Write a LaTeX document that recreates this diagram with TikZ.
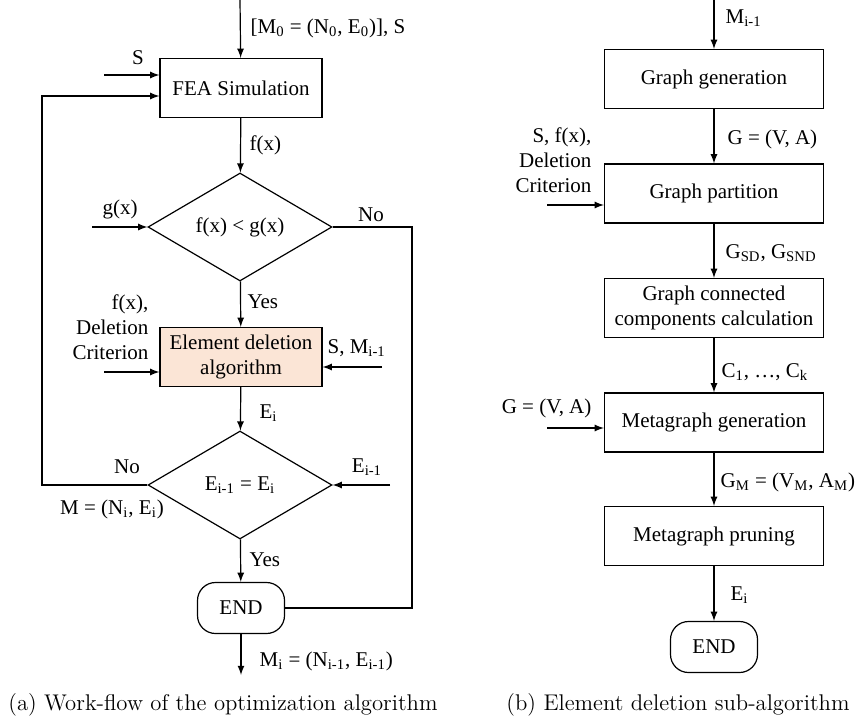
\documentclass[tikz,border=0pt]{standalone}
\usepackage{fontspec}
\newfontfamily\tnr{Liberation Serif}
\usetikzlibrary{arrows,shapes.geometric}
\definecolor{DelClr}{RGB}{251,229,214}
\newcommand{\sbs}[1]{\textsubscript{#1}}

\begin{document}
\begin{tikzpicture}[x=0.5pt,y=-0.5pt,line width=0.6pt,>=latex,
  every node/.style={font=\tnr\fontsize{10.5}{12.5}\selectfont},
  blk/.style={draw,rectangle,minimum width=81pt,minimum height=29.5pt,inner sep=2pt,align=center},
  wblk/.style={blk,minimum width=109.5pt},
  dec/.style={draw,diamond,aspect=1.7,minimum width=92pt,minimum height=54pt,inner sep=0pt},
  fin/.style={draw,rectangle,rounded corners=9pt,minimum width=43.5pt,minimum height=25.5pt},
  lbl/.style={inner sep=1pt},
  captxt/.style={font=\rmfamily\fontsize{11.35}{13}\selectfont}]
\useasboundingbox (0,0) rectangle (855,721);

% (a) main loop
\node[blk] (fea) at (241,88) {FEA Simulation};
\node[dec] (dec1) at (240,227) {f(x) < g(x)};
\node[blk,fill=DelClr] (del) at (241,357) {Element deletion\\algorithm};
\node[dec] (dec2) at (240,485) {E\sbs{i-1} = E\sbs{i}};
\node[fin] (endA) at (241,608) {END};

\coordinate (inA) at (240,0);
\coordinate (sA) at (104,75);
\coordinate (loop) at (42,96);
\coordinate (gA) at (92,227);
\coordinate (rt) at (412,608);
\coordinate (critA) at (104,372);
\coordinate (smA) at (382,367);
\coordinate (eA) at (390,485);
\coordinate (outA) at (241,675);

\draw[->] (inA) -- (fea);
\draw[->] (sA) -- (sA -| fea.west);
\draw[->] (fea) -- (dec1);
\draw[->] (gA) -- (dec1.west);
\draw (dec1.east) -| (rt) -- (endA.east);
\draw[->] (dec1) -- (del);
\draw[->] (critA) -- (critA -| del.west);
\draw[->] (smA) -- (smA -| del.east);
\draw[->] (del) -- (dec2);
\draw[->] (eA) -- (dec2.east);
\draw[->] (dec2.west) -| (loop) -- (loop -| fea.west);
\draw[->] (dec2) -- (endA);
\draw[->] (endA) -- (outA);

\node[lbl,anchor=west] (lM0) at (248,28) {[M\sbs{0} = (N\sbs{0}, E\sbs{0})], S};
\node[lbl] (lS) at (138,58) {S};
\node[lbl,anchor=west] (lf) at (247,145) {f(x)};
\node[lbl] (lg) at (120,209) {g(x)};
\node[lbl] (lNo1) at (371,215) {No};
\node[lbl,anchor=west] (lYes1) at (245,302) {Yes};
\node[lbl,anchor=east,align=right] (lcritA) at (151,327) {f(x),\\Deletion\\Criterion};
\node[lbl,anchor=west] (lsm) at (325,348) {S, M\sbs{i-1}};
\node[lbl,anchor=west] (lEi) at (257,413) {E\sbs{i}};
\node[lbl] (lNo2) at (127,467) {No};
\node[lbl] (lEim) at (367,467) {E\sbs{i-1}};
\node[lbl] (lM) at (112,509) {M = (N\sbs{i}, E\sbs{i})};
\node[lbl,anchor=west] (lYes2) at (247,560) {Yes};
\node[lbl,anchor=west] (lMi) at (257,661) {M\sbs{i} = (N\sbs{i-1}, E\sbs{i-1})};
\node[captxt] (capA) at (223,705) {(a) Work-flow of the optimization algorithm};

% (b) element deletion
\node[wblk] (gg) at (714,79) {Graph generation};
\node[wblk] (gp) at (714,193.5) {Graph partition};
\node[wblk] (gc) at (714,308) {Graph connected\\components calculation};
\node[wblk] (mg) at (714,422.5) {Metagraph generation};
\node[wblk] (mp) at (714,536) {Metagraph pruning};
\node[fin] (endB) at (714,647) {END};

\coordinate (inB) at (714,0);
\coordinate (critB) at (547,205);
\coordinate (gB) at (547,428);

\draw[->] (inB) -- (gg);
\draw[->] (gg) -- (gp);
\draw[->] (critB) -- (critB -| gp.west);
\draw[->] (gp) -- (gc);
\draw[->] (gc) -- (mg);
\draw[->] (gB) -- (gB -| mg.west);
\draw[->] (mg) -- (mp);
\draw[->] (mp) -- (endB);

\node[lbl,anchor=west] (lMim) at (723,18) {M\sbs{i-1}};
\node[lbl,anchor=west] (lG) at (725,139) {G = (V, A)};
\node[lbl,anchor=east,align=right] (lcritB) at (594,160) {S, f(x),\\Deletion\\Criterion};
\node[lbl,anchor=west] (lGs) at (723,253) {G\sbs{SD}, G\sbs{SND}};
\node[lbl,anchor=west] (lC) at (719,372) {C\sbs{1}, …, C\sbs{k}};
\node[lbl,anchor=east] (lGB) at (594,408) {G = (V, A)};
\node[lbl,anchor=west] (lGM) at (718,482) {G\sbs{M} = (V\sbs{M}, A\sbs{M})};
\node[lbl,anchor=west] (lEB) at (728,595) {E\sbs{i}};
\node[captxt] (capB) at (678,705) {(b) Element deletion sub-algorithm};
\end{tikzpicture}
\end{document}
